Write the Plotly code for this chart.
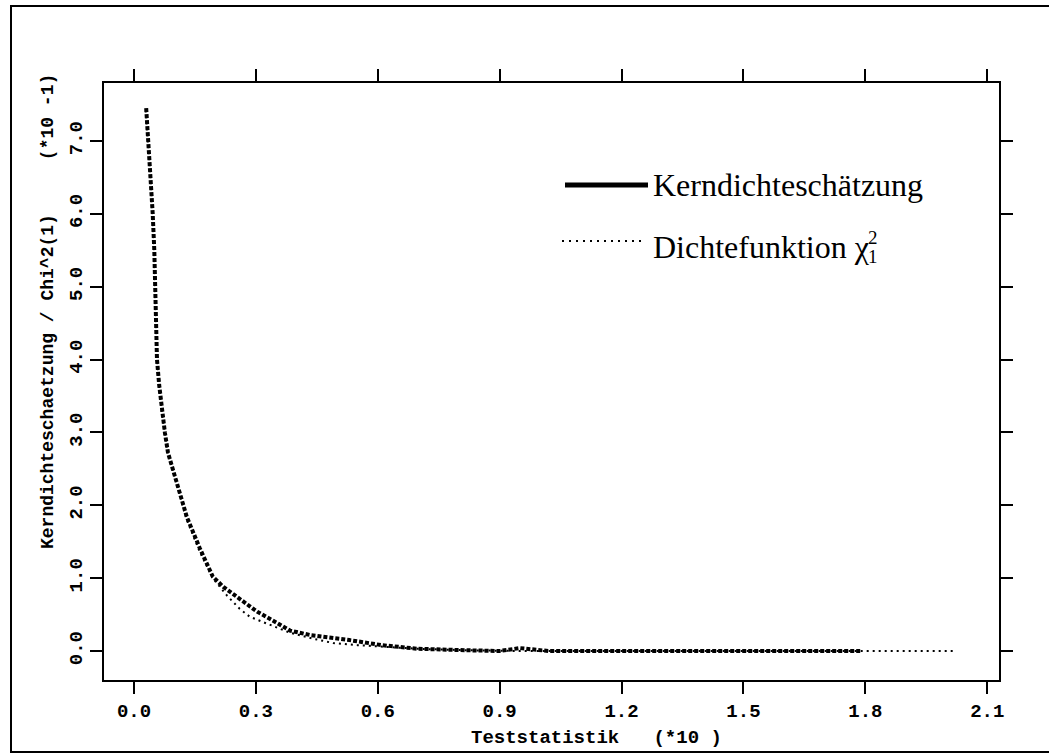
import plotly.graph_objects as go

# ---- data (chart units: x in *10, y in *10^-1) ----
kern_x = [0.030, 0.0352, 0.0411, 0.0460, 0.0500, 0.0517, 0.054, 0.0566, 0.062, 0.069,
          0.076, 0.0837, 0.106, 0.130, 0.162, 0.194, 0.220, 0.244, 0.285, 0.303,
          0.335, 0.367, 0.384, 0.433, 0.49, 0.53, 0.61, 0.655, 0.70, 0.82,
          0.90, 0.95, 1.02, 1.14, 1.30, 1.50, 1.79]
kern_y = [7.45, 7.01, 6.51, 6.01, 5.50, 4.95, 4.31, 4.00, 3.65, 3.28,
          3.00, 2.72, 2.31, 1.84, 1.41, 1.02, 0.88, 0.78, 0.60, 0.54,
          0.44, 0.34, 0.28, 0.22, 0.18, 0.15, 0.08, 0.05, 0.03, 0.01,
          0.0, 0.04, 0.0, 0.0, 0.0, 0.0, 0.0]

chi_x = [0.029, 0.035, 0.041, 0.046, 0.050, 0.052, 0.055, 0.058, 0.062, 0.069,
         0.076, 0.084, 0.106, 0.130, 0.162, 0.194, 0.229, 0.260, 0.285, 0.335,
         0.384, 0.44, 0.49, 0.55, 0.61, 0.70, 0.82, 0.95, 1.20, 1.50, 1.80, 2.02]
chi_y = [7.42, 6.98, 6.48, 5.98, 5.48, 4.93, 4.28, 3.95, 3.62, 3.25,
         3.00, 2.70, 2.28, 1.80, 1.36, 1.00, 0.76, 0.58, 0.47, 0.36,
         0.25, 0.17, 0.11, 0.08, 0.06, 0.03, 0.01, 0.0, 0.0, 0.0, 0.0, 0.0]

x_ticks = [0.0, 0.3, 0.6, 0.9, 1.2, 1.5, 1.8, 2.1]
x_ticktext = ["0.0", "0.3", "0.6", "0.9", "1.2", "1.5", "1.8", "2.1"]
y_ticks = [0, 1, 2, 3, 4, 5, 6, 7]
y_ticktext = ["0.0", "1.0", "2.0", "3.0", "4.0", "5.0", "6.0", "7.0"]

legend_names = ["Kerndichteschätzung", "Dichtefunktion χ"]
x_title = "Teststatistik\u00a0\u00a0\u00a0(*10\u00a0)"
y_title = "Kerndichteschaetzung / Chi^2(1)" + "\u00a0" * 5 + "(*10 -1)"

# ---- layout geometry (page pixels; body margin removed) ----
W, H = 1049, 755
L, R, T, B = 104, 999, 83, 680   # plot box in page pixels


def px(xp):
    return (xp - L) / (R - L)


def py(yp):
    return (B - yp) / (B - T)


mono = "Liberation Mono, Courier New, monospace"
serif = "Liberation Serif, Times New Roman, serif"

fig = go.Figure()
fig.add_trace(go.Scatter(x=chi_x, y=chi_y, mode="lines",
                         line=dict(color="black", width=2, dash="2px,4px"),
                         name=legend_names[1], showlegend=False))
fig.add_trace(go.Scatter(x=kern_x, y=kern_y, mode="lines",
                         line=dict(color="black", width=4, dash="4px,2px"),
                         name=legend_names[0], showlegend=False))

axis_common = dict(showline=True, linecolor="black", linewidth=2, mirror="ticks",
                   ticks="outside", ticklen=12, tickwidth=2, tickcolor="black",
                   showgrid=False, zeroline=False,
                   tickfont=dict(family=mono, size=19, color="black", weight="bold"))

fig.update_xaxes(range=[-0.0738, 2.1289], tickvals=x_ticks, ticktext=x_ticktext,
                 **axis_common)
fig.update_yaxes(range=[-0.398, 7.796], tickvals=y_ticks, ticktext=y_ticktext,
                 tickangle=-90, **axis_common)

shapes = [
    # outer frame
    dict(type="rect", xref="paper", yref="paper", x0=px(11), x1=px(1060),
         y0=py(752), y1=py(6), line=dict(color="black", width=2)),
    # legend samples
    dict(type="line", xref="paper", yref="paper", x0=px(565), x1=px(648),
         y0=py(185), y1=py(185), line=dict(color="black", width=5)),
    dict(type="line", xref="paper", yref="paper", x0=px(562), x1=px(642),
         y0=py(241), y1=py(241), line=dict(color="black", width=2, dash="2px,5px")),
]

annotations = [
    dict(text=legend_names[0], x=px(651), y=py(185), xref="paper", yref="paper",
         xanchor="left", yanchor="middle", showarrow=False,
         font=dict(family=serif, size=32, color="black")),
    dict(text=legend_names[1], x=px(651), y=py(247), xref="paper", yref="paper",
         xanchor="left", yanchor="middle", showarrow=False,
         font=dict(family=serif, size=32, color="black")),
    dict(text="2", x=px(866), y=py(237), xref="paper", yref="paper",
         xanchor="left", yanchor="middle", showarrow=False,
         font=dict(family=serif, size=19, color="black")),
    dict(text="1", x=px(866), y=py(256), xref="paper", yref="paper",
         xanchor="left", yanchor="middle", showarrow=False,
         font=dict(family=serif, size=19, color="black")),
    dict(text=x_title, x=px(596), y=py(738), xref="paper", yref="paper",
         xanchor="center", yanchor="middle", showarrow=False,
         font=dict(family=mono, size=19, color="black", weight="bold")),
    dict(text=y_title, x=px(48), y=py(312), xref="paper", yref="paper",
         xanchor="center", yanchor="middle", showarrow=False, textangle=-90,
         font=dict(family=mono, size=18, color="black", weight="bold")),
]

fig.update_layout(width=W, height=H,
                  margin=dict(l=L, r=W - R, t=T, b=H - B),
                  paper_bgcolor="white", plot_bgcolor="white",
                  shapes=shapes, annotations=annotations, showlegend=False)

fig.write_html("out.html", config={"displayModeBar": False},
               post_script="document.body.style.margin='0';document.body.style.overflow='hidden';")
